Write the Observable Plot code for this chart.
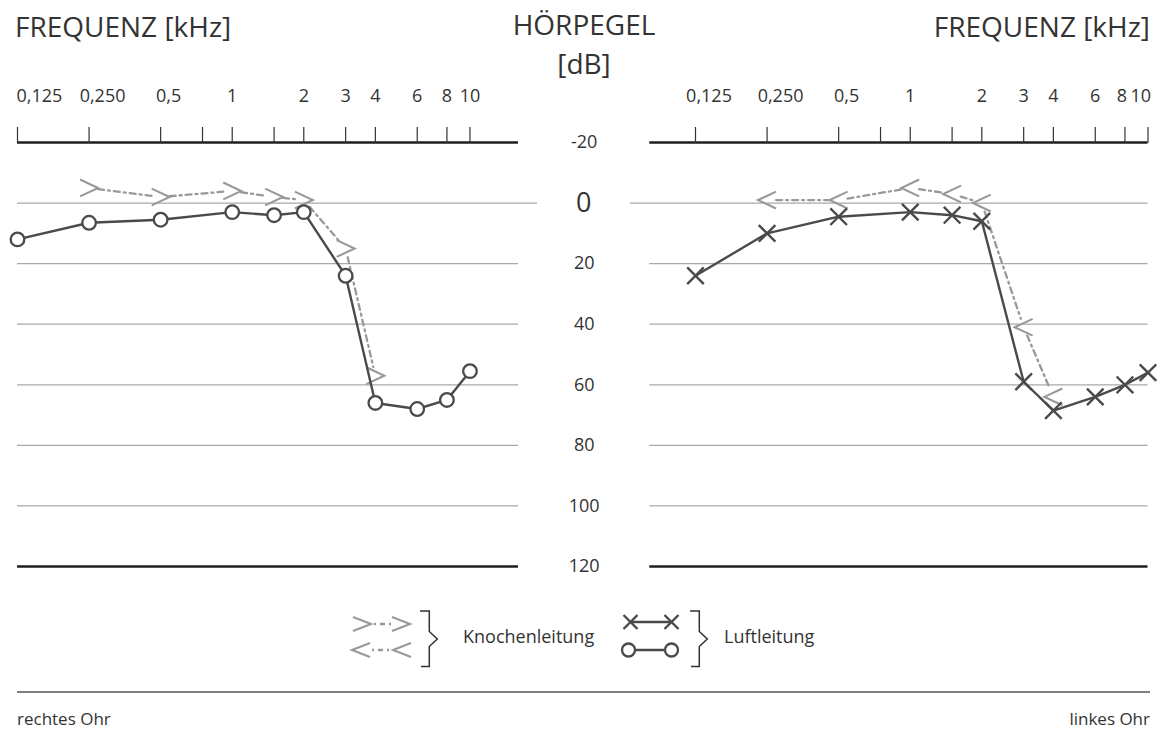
<!DOCTYPE html>
<html><head><meta charset="utf-8">
<script src="https://cdn.jsdelivr.net/npm/d3@7"></script>
<script src="https://cdn.jsdelivr.net/npm/@observablehq/plot@0.6"></script>
<style>
html,body{margin:0;padding:0;background:#fff;}
#wrap{position:relative;width:1161px;height:731px;font-family:"Open Sans",sans-serif;color:#333;overflow:hidden;background:#fff}
#wrap > svg{position:absolute;top:0}
</style></head><body><div id="wrap"></div>
<script>
// ---------- data ----------
const freqTicks  = [0.125, 0.25, 0.5, 0.75, 1, 1.5, 2, 3, 4, 6, 8, 10];
const freqLabels = ["0,125", "0,250", "0,5", "", "1", "", "2", "3", "4", "6", "8", "10"];
const levels      = [-20, 0, 20, 40, 60, 80, 100, 120];
const levelLabels = ["-20", "0", "20", "40", "60", "80", "100", "120"];
const airFreqs  = [0.125, 0.25, 0.5, 1, 1.5, 2, 3, 4, 6, 8, 10];
const boneFreqs = [0.25, 0.5, 1, 1.5, 2, 3, 4];
// rechtes Ohr (left panel)
const rightEarAir  = [12, 6.5, 5.5, 3, 4, 3, 24, 66, 68, 65, 55.5];
const rightEarBone = [-5, -2, -4, -2, -1, 15, 57];
// linkes Ohr (right panel)
const leftEarAir  = [24, 10, 4.5, 3, 4, 6, 59, 68.5, 64, 60, 56];
const leftEarBone = [-1, -1, -5, -3, 0, 41, 64];

// ---------- styles ----------
const DARK = "#4a4a4a", GRID = "#a9a9a9", BONE = "#999999", TXT = "#333";
const chevron = dir => ({
  draw(ctx, size) {
    const r = Math.sqrt(size / Math.PI);
    const hw = r * 1.12, hh = r * 1.05;
    ctx.moveTo(-dir * hw, -hh);
    ctx.lineTo(dir * hw, 0);
    ctx.lineTo(-dir * hw, hh);
  }
});

function tickLabelMarks(side) {
  const items = freqTicks.map((f, i) => ({f, label: freqLabels[i]})).filter(d => d.label);
  const last = freqTicks[freqTicks.length - 1];
  const groups = d3.groups(items, d => {
    if (side === "left" && d.f === freqTicks[0]) return "start|-1";
    if (side === "right" && d.f === last) return "end|3";
    if (side === "right" && d.label === "8") return "middle|-3";
    if (d.label.startsWith("0,")) return "middle|" + (d.label.length > 3 ? 13.5 : 8);
    return "middle|0";
  });
  return groups.map(([key, data]) => {
    const [anchor, dx] = key.split("|");
    return Plot.text(data, {x: "f", text: "label", frameAnchor: "top", lineAnchor: "bottom",
      dy: -40.6, dx: +dx, textAnchor: anchor, fontSize: 18, fill: TXT});
  });
}

function panel({air, bone, airSymbol, boneDir, domain, width, marginLeft, marginRight, side}) {
  const airData = airFreqs.map((f, i) => ({f, v: air[i]}));
  const boneData = boneFreqs.map((f, i) => ({f, v: bone[i]}));
  const segs = d3.pairs(boneData).map(([a, b]) => ({x1: a.f, y1: a.v, x2: b.f, y2: b.v}));
  const gridLevels = levels.filter(l => l !== -20 && l !== 0 && l !== 120);
  const marks = [
    Plot.ruleY(gridLevels, {stroke: GRID, strokeWidth: 1.3}),
    Plot.ruleY([0], {stroke: GRID, strokeWidth: 1.3,
      insetRight: side === "left" ? -19 : 0, insetLeft: side === "right" ? -19.5 : 0}),
    Plot.ruleY([levels[0], levels[levels.length - 1]], {stroke: "#1f1f1f", strokeWidth: 2.5}),
    Plot.axisX({anchor: "top", ticks: freqTicks, tickSize: 16, tickFormat: () => "",
      stroke: "#333", strokeWidth: 1.2, label: null}),
    ...tickLabelMarks(side),
    Plot.arrow(segs, {x1: "x1", y1: "y1", x2: "x2", y2: "y2", headLength: 0,
      insetStart: 9, insetEnd: 9, stroke: BONE, strokeWidth: 2.3, strokeDasharray: "6,4,2,4"}),
    Plot.dot(boneData, {x: "f", y: "v", symbol: chevron(boneDir), r: 8, fill: "none",
      stroke: BONE, strokeWidth: 2.1, strokeLinejoin: "miter"}),
    Plot.line(airData, {x: "f", y: "v", stroke: DARK, strokeWidth: 2.4}),
    airSymbol === "circle"
      ? Plot.dot(airData, {x: "f", y: "v", r: 6.8, fill: "white", stroke: DARK, strokeWidth: 2.3})
      : Plot.dot(airData, {x: "f", y: "v", symbol: "times", r: 7.6, stroke: DARK, strokeWidth: 2.4})
  ];
  if (side === "left") {
    const lv = levels.map((l, i) => ({l, t: levelLabels[i]}));
    marks.push(Plot.text(lv.filter(d => d.l !== 0), {y: "l", text: "t", frameAnchor: "right",
      dx: 65.7, textAnchor: "middle", fontSize: 18, fill: TXT}));
    marks.push(Plot.text(lv.filter(d => d.l === 0), {y: "l", text: "t", frameAnchor: "right",
      dx: 65.2, dy: 0, textAnchor: "middle", fontSize: 27, fill: TXT}));
  }
  return Plot.plot({
    width, height: 600, marginTop: 142, marginBottom: 34, marginLeft, marginRight,
    x: {type: "log", domain, axis: null},
    y: {domain: [levels[0], levels[levels.length - 1]], reverse: true, axis: null},
    style: {background: "transparent", fontFamily: '"Open Sans", sans-serif', color: TXT, overflow: "visible"},
    marks
  });
}

const wrap = document.getElementById("wrap");
const left = panel({air: rightEarAir, bone: rightEarBone, airSymbol: "circle", boneDir: 1,
  domain: [0.125, 16], width: 620, marginLeft: 17, marginRight: 102, side: "left"});
left.style.left = "0px";
wrap.appendChild(left);
const right = panel({air: leftEarAir, bone: leftEarBone, airSymbol: "times", boneDir: -1,
  domain: [0.0803, 10], width: 541, marginLeft: 29.3, marginRight: 13.5, side: "right"});
right.style.left = "620px";
wrap.appendChild(right);

// ---------- titles, legend, footer ----------
const ov = d3.create("svg").attr("width", 1161).attr("height", 731)
  .style("left", "0px").style("pointer-events", "none")
  .attr("font-family", '"Open Sans", sans-serif').attr("fill", TXT);
ov.append("text").attr("x", 15).attr("y", 37).attr("font-size", 28).text("FREQUENZ [kHz]");
ov.append("text").attr("x", 1150).attr("y", 37).attr("font-size", 28).attr("text-anchor", "end").text("FREQUENZ [kHz]");
ov.append("text").attr("x", 584).attr("y", 35).attr("font-size", 28).attr("text-anchor", "middle").text("HÖRPEGEL");
ov.append("text").attr("x", 584).attr("y", 74).attr("font-size", 28).attr("text-anchor", "middle").text("[dB]");

const chev = (x, y, dir) => `M${x - dir * 9},${y - 7}L${x + dir * 9},${y}L${x - dir * 9},${y + 7}`;
const lg = ov.append("g");
lg.append("path").attr("d", chev(362, 624, 1) + chev(401, 624, 1)).attr("fill", "none").attr("stroke", BONE).attr("stroke-width", 2.1);
lg.append("line").attr("x1", 374).attr("x2", 391).attr("y1", 624).attr("y2", 624).attr("stroke", BONE).attr("stroke-width", 2.3).attr("stroke-dasharray", "2,4,5,4");
lg.append("path").attr("d", chev(361, 650, -1) + chev(402, 650, -1)).attr("fill", "none").attr("stroke", BONE).attr("stroke-width", 2.1);
lg.append("line").attr("x1", 372).attr("x2", 391).attr("y1", 650).attr("y2", 650).attr("stroke", BONE).attr("stroke-width", 2.3).attr("stroke-dasharray", "2,4,5,4");
const brace = x => `M${x},611H${x + 9.3}V631.5L${x + 17.3},639L${x + 9.3},646.5V666.5H${x + 1}`;
lg.append("path").attr("d", brace(420) + brace(690)).attr("fill", "none").attr("stroke", TXT).attr("stroke-width", 1.5);
lg.append("text").attr("x", 463).attr("y", 643).attr("font-size", 18).text("Knochenleitung");
lg.append("text").attr("x", 724).attr("y", 643).attr("font-size", 18).text("Luftleitung");
lg.append("line").attr("x1", 630).attr("x2", 672).attr("y1", 622).attr("y2", 622).attr("stroke", DARK).attr("stroke-width", 2.4);
const cross = (x, y) => `M${x - 7},${y - 7}L${x + 7},${y + 7}M${x - 7},${y + 7}L${x + 7},${y - 7}`;
lg.append("path").attr("d", cross(630.5, 622) + cross(671.5, 622)).attr("stroke", DARK).attr("stroke-width", 2.4).attr("fill", "none");
lg.append("line").attr("x1", 629).attr("x2", 672).attr("y1", 650).attr("y2", 650).attr("stroke", DARK).attr("stroke-width", 2.4);
[628.5, 671.5].forEach(x => lg.append("circle").attr("cx", x).attr("cy", 650).attr("r", 6.5)
  .attr("fill", "white").attr("stroke", DARK).attr("stroke-width", 2.3));

ov.append("line").attr("x1", 17).attr("x2", 1150).attr("y1", 692).attr("y2", 692).attr("stroke", "#555").attr("stroke-width", 1.5);
ov.append("text").attr("x", 17).attr("y", 725).attr("font-size", 17).text("rechtes Ohr");
ov.append("text").attr("x", 1150).attr("y", 725).attr("font-size", 17).attr("text-anchor", "end").text("linkes Ohr");
wrap.appendChild(ov.node());
</script></body></html>
